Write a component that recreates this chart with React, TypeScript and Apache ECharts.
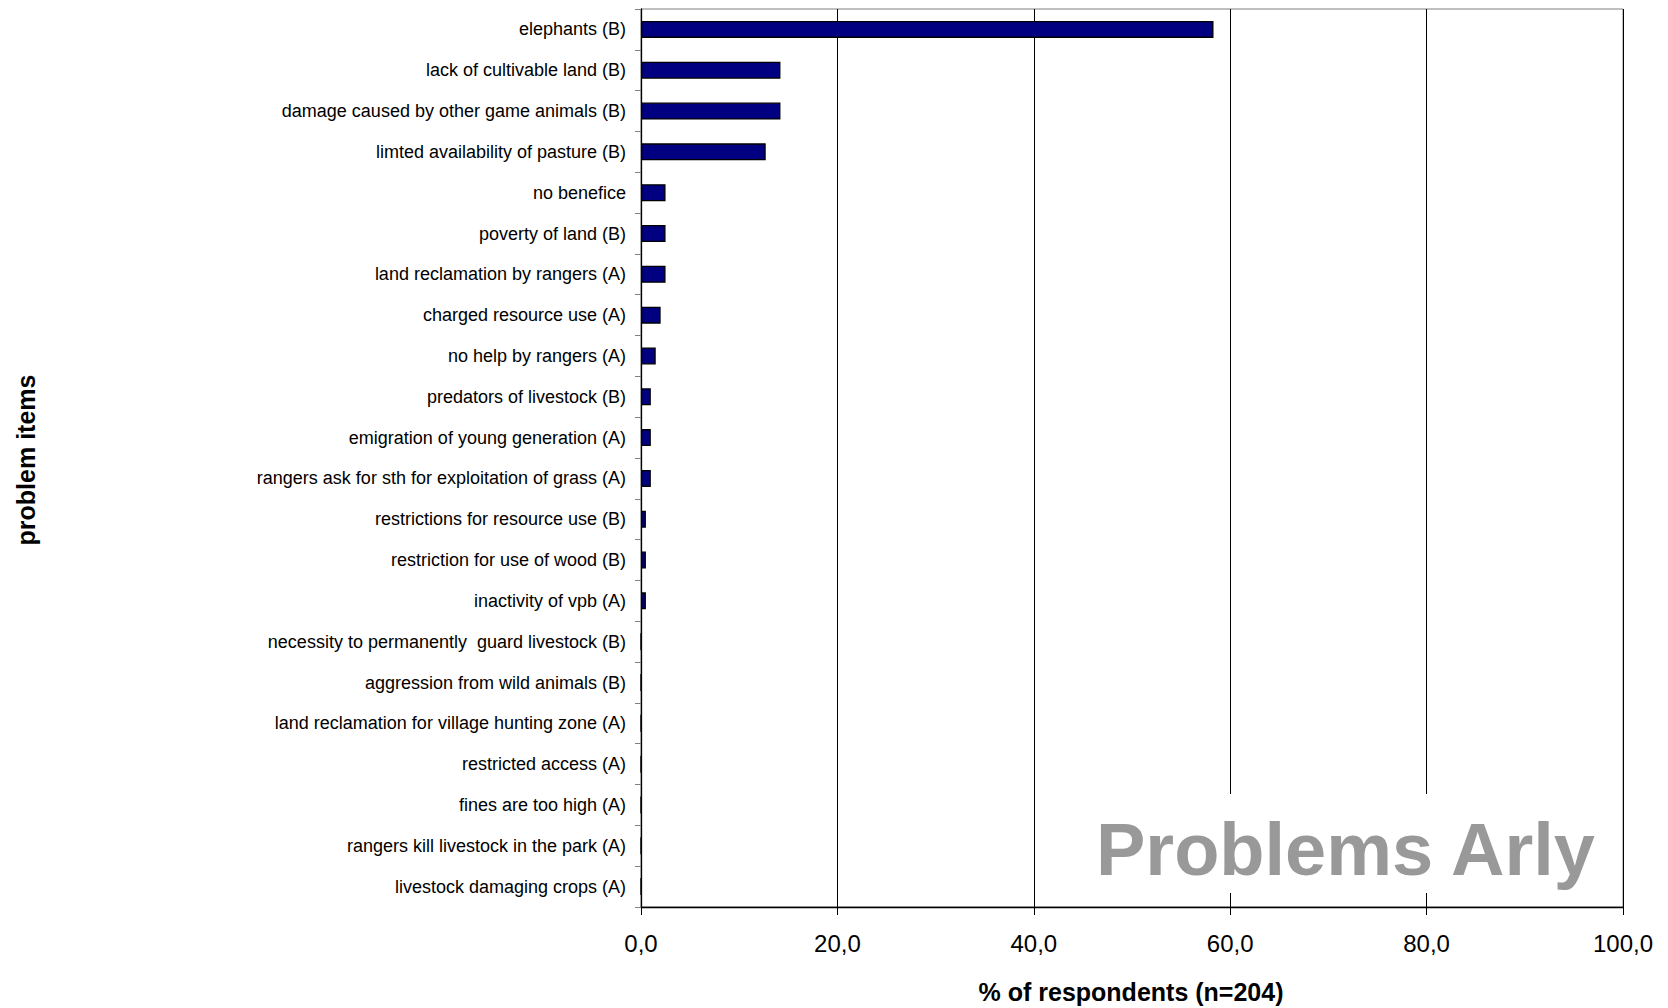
import React, { useEffect, useRef } from "react";
import * as echarts from "echarts";

const categories = [
  "elephants (B)",
  "lack of cultivable land (B)",
  "damage caused by other game animals (B)",
  "limted availability of pasture (B)",
  "no benefice",
  "poverty of land (B)",
  "land reclamation by rangers (A)",
  "charged resource use (A)",
  "no help by rangers (A)",
  "predators of livestock (B)",
  "emigration of young generation (A)",
  "rangers ask for sth for exploitation of grass (A)",
  "restrictions for resource use (B)",
  "restriction for use of wood (B)",
  "inactivity of vpb (A)",
  "necessity to permanently  guard livestock (B)",
  "aggression from wild animals (B)",
  "land reclamation for village hunting zone (A)",
  "restricted access (A)",
  "fines are too high (A)",
  "rangers kill livestock in the park (A)",
  "livestock damaging crops (A)",
];

const percentValues = [
  58.3, 14.2, 14.2, 12.7, 2.5, 2.5, 2.5, 2.0, 1.5, 1.0, 1.0, 1.0, 0.5, 0.5, 0.5,
  0, 0, 0, 0, 0, 0, 0,
];

const xTicks = [0, 20, 40, 60, 80, 100];

const FONT = "'Liberation Sans', Arial, Helvetica, sans-serif";

export default function App() {
  const ref = useRef<HTMLDivElement>(null);

  useEffect(() => {
    document.body.style.margin = "0";
    if (!ref.current) return;
    const chart = echarts.init(ref.current, undefined, { renderer: "svg" });
    chart.setOption({
      animation: false,
      backgroundColor: "#ffffff",
      grid: {
        left: 641,
        right: 45,
        top: 9,
        bottom: 101,
        show: true,
        borderColor: "#808080",
        borderWidth: 1,
        backgroundColor: "#ffffff",
      },
      xAxis: {
        type: "value",
        min: xTicks[0],
        max: xTicks[xTicks.length - 1],
        interval: 20,
        axisLine: { show: true, lineStyle: { color: "#000", width: 1.3 } },
        axisTick: { show: true, length: 8, lineStyle: { color: "#000" } },
        splitLine: { show: true, lineStyle: { color: "#000", width: 1 } },
        axisLabel: {
          margin: 24,
          fontSize: 24,
          color: "#000",
          fontFamily: FONT,
          formatter: (v: number) => v.toFixed(1).replace(".", ","),
        },
      },
      yAxis: {
        type: "category",
        data: categories,
        inverse: true,
        axisLine: { show: true, lineStyle: { color: "#000", width: 1.3 } },
        axisTick: { show: true, length: 6, lineStyle: { color: "#808080" } },
        axisLabel: {
          margin: 15,
          fontSize: 18,
          color: "#000",
          fontFamily: FONT,
          interval: 0,
        },
      },
      series: [
        {
          type: "bar",
          data: percentValues,
          barWidth: 17,
          itemStyle: {
            color: "#000080",
            borderColor: "#000000",
            borderWidth: 1.3,
          },
        },
      ],
      graphic: [
        {
          type: "rect",
          z: 10,
          shape: { x: 1062, y: 794, width: 556, height: 99 },
          style: { fill: "#ffffff" },
        },
        {
          type: "text",
          z: 11,
          x: 1096,
          y: 849,
          style: {
            text: "Problems Arly",
            fontSize: 74,
            fontWeight: "bold",
            fontFamily: FONT,
            fill: "#999999",
            textAlign: "left",
            textVerticalAlign: "middle",
          },
        },
        {
          type: "text",
          z: 11,
          x: 1131,
          y: 992,
          style: {
            text: "% of respondents (n=204)",
            fontSize: 25,
            fontWeight: "bold",
            fontFamily: FONT,
            fill: "#000",
            textAlign: "center",
            textVerticalAlign: "middle",
          },
        },
        {
          type: "text",
          z: 11,
          x: 26,
          y: 460,
          rotation: Math.PI / 2,
          style: {
            text: "problem items",
            fontSize: 25,
            fontWeight: "bold",
            fontFamily: FONT,
            fill: "#000",
            textAlign: "center",
            textVerticalAlign: "middle",
          },
        },
      ],
    });
    return () => chart.dispose();
  }, []);

  return <div ref={ref} style={{ width: 1668, height: 1008 }} />;
}
